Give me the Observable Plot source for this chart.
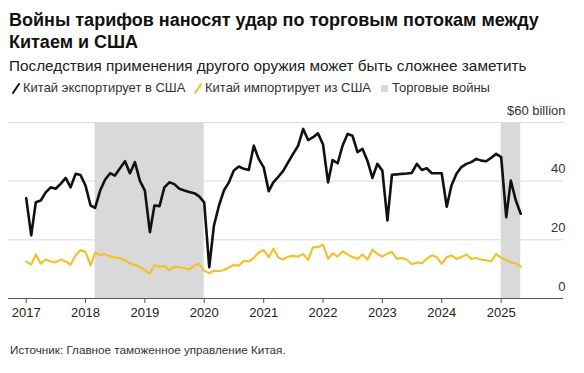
<!DOCTYPE html>
<html>
<head>
<meta charset="utf-8">
<script src="https://cdn.jsdelivr.net/npm/d3@7"></script>
<script src="https://cdn.jsdelivr.net/npm/@observablehq/plot@0.6"></script>
<style>
  html, body { margin: 0; padding: 0; background: #fff; }
  body { width: 584px; height: 373px; position: relative; overflow: hidden;
         font-family: "Liberation Sans", Arial, Helvetica, sans-serif; }
  .title { position: absolute; left: 9px; top: 9px; font-size: 18px; font-weight: bold;
           line-height: 22px; color: #111; white-space: nowrap; }
  .subtitle { position: absolute; left: 9px; top: 57px; font-size: 15.3px; line-height: 18px;
              color: #222; white-space: nowrap; }
  .legend { position: absolute; top: 80px; left: 0; height: 16px; font-size: 13px;
            line-height: 16px; color: #333; white-space: nowrap; }
  .legend .item { position: absolute; top: 0; display: flex; align-items: center; }
  .legend svg { margin-right: 3px; }
  .chart { position: absolute; left: 0; top: 100px; }
  .footer { position: absolute; left: 10px; top: 342px; font-size: 11.7px; line-height: 16px;
            color: #333; white-space: nowrap; }
</style>
</head>
<body>
<div class="title">Войны тарифов наносят удар по торговым потокам между<br>Китаем и США</div>
<div class="subtitle">Последствия применения другого оружия может быть сложнее заметить</div>
<div class="legend" id="legend"></div>
<div class="chart" id="chart"></div>
<div class="footer">Источник: Главное таможенное управление Китая.</div>
<script>
// Monthly values, $ billion, January 2017 .. May 2025
const startYear = 2017;
const exportsToUS = [
  34.2, 21.5, 32.8, 33.4, 36.2, 37.9, 37.4, 39.1, 41.1, 37.9, 42.5, 42.1,
  38.5, 31.7, 30.9, 36.8, 40.5, 42.7, 41.9, 44.4, 46.8, 42.7, 46.5, 40.2,
  36.8, 22.6, 31.7, 31.5, 37.9, 39.6, 39.0, 37.4, 36.8, 36.3, 35.9, 34.8,
  32.8, 10.7, 24.9, 31.7, 36.8, 39.6, 43.6, 45.0, 44.2, 43.8, 52.1, 47.6,
  44.7, 36.6, 39.6, 41.5, 43.5, 46.5, 49.3, 52.1, 57.8, 54.0, 55.0, 56.3,
  52.5, 39.6, 47.2, 46.1, 52.1, 56.1, 55.5, 49.9, 51.0, 47.0, 41.1, 45.9,
  43.6, 26.6, 42.2, 42.3, 42.5, 42.6, 42.8, 45.9, 43.8, 44.4, 42.7, 42.7,
  42.7, 31.3, 38.5, 42.5, 44.8, 45.9, 46.5, 47.6, 47.0, 46.8, 48.0, 49.3,
  48.2, 27.7, 40.2, 33.4, 28.9
];
const importsFromUS = [
  12.6, 11.6, 15.0, 11.9, 13.3, 12.6, 12.3, 13.3, 12.6, 11.5, 14.7, 16.5,
  15.9, 11.3, 15.6, 14.8, 15.1, 14.3, 14.0, 13.7, 13.1, 12.0, 11.4, 10.8,
  9.6, 8.5, 11.4, 10.8, 11.1, 9.6, 10.8, 10.7, 10.3, 9.9, 11.3, 11.7,
  9.5, 8.6, 9.5, 9.3, 9.7, 10.6, 11.4, 11.2, 12.9, 12.6, 13.8, 15.7,
  16.5, 14.0, 17.0, 14.0, 13.3, 14.3, 14.5, 14.3, 15.2, 13.2, 17.5, 17.5,
  18.4, 13.5, 15.4, 14.3, 16.1, 15.0, 14.1, 13.5, 15.0, 13.2, 16.6, 15.2,
  14.3, 15.4, 15.8, 13.5, 13.8, 13.2, 11.7, 12.3, 12.0, 13.5, 14.7, 14.1,
  11.8, 14.1, 14.7, 13.5, 14.1, 15.0, 13.5, 13.8, 13.2, 13.0, 12.7, 15.2,
  13.8, 13.2, 12.3, 12.0, 10.9
];
const tradeWarStarts = ["2018-03-01", "2025-01-01"];
const tradeWarEnds   = ["2020-01-01", "2025-05-01"];
const yearTicks = [2017, 2018, 2019, 2020, 2021, 2022, 2023, 2024, 2025];
const yTicks = [0, 20, 40, 60];
const yTickLabels = ["0", "20", "40", "$60 billion"];

const seriesNames = ["Китай экспортирует в США", "Китай импортирует из США", "Торговые войны"];
const colors = {exp: "#111111", imp: "#f2c12e", war: "#d9d9d9"};

const monthDate = i => new Date(Date.UTC(startYear + Math.floor(i / 12), i % 12, 1));
const expData = exportsToUS.map((v, i) => ({date: monthDate(i), value: v}));
const impData = importsFromUS.map((v, i) => ({date: monthDate(i), value: v}));
const wars = tradeWarStarts.map((s, i) => ({start: new Date(s + "T00:00:00Z"), end: new Date(tradeWarEnds[i] + "T00:00:00Z")}));
const yearDates = yearTicks.map(y => new Date(Date.UTC(y, 0, 1)));

// Legend
const legend = document.getElementById("legend");
const slash = c => `<svg width="8" height="11" viewBox="0 0 8 11"><line x1="1" y1="10" x2="7" y2="1" stroke="${c}" stroke-width="2" stroke-linecap="round"/></svg>`;
const square = c => `<svg width="8" height="11" viewBox="0 0 8 11"><rect x="0" y="2" width="7" height="7" fill="${c}"/></svg>`;
const legendLeft = [12, 194, 381];
const icons = [slash(colors.exp), slash(colors.imp), square(colors.war)];
seriesNames.forEach((name, i) => {
  const span = document.createElement("span");
  span.className = "item";
  span.style.left = legendLeft[i] + "px";
  span.innerHTML = icons[i] + "<span>" + name + "</span>";
  legend.appendChild(span);
});

const chart = Plot.plot({
  width: 584,
  height: 232,
  marginLeft: 8,
  marginRight: 21,
  marginTop: 22,
  marginBottom: 34,
  x: {type: "utc", domain: [yearDates[0], yearDates[yearDates.length - 1]], range: [25.7, 500.7]},
  y: {domain: [0, 60], axis: null},
  style: {fontFamily: "'Liberation Sans', Arial, sans-serif", fontSize: "13px", color: "#333", background: "transparent", overflow: "visible"},
  marks: [
    Plot.rect(wars, {x1: "start", x2: "end", fill: colors.war}),
    Plot.ruleY(yTicks.filter(d => d > 0), {stroke: "#dcdcdc", strokeWidth: 1}),
    Plot.ruleY([0], {stroke: "#555", strokeWidth: 1}),
    Plot.axisX({ticks: yearDates, tickFormat: d => String(d.getUTCFullYear()), tickSize: 5, tickPadding: 4, stroke: "#555", fill: "#222", fontSize: 13, label: null}),
    Plot.text(yTicks, {y: d => d, text: (d, i) => yTickLabels[i], frameAnchor: "right", textAnchor: "end", dx: 2, dy: -12, fontSize: 13, fill: "#333"}),
    Plot.line(impData, {x: "date", y: "value", stroke: colors.imp, strokeWidth: 2.2}),
    Plot.line(expData, {x: "date", y: "value", stroke: colors.exp, strokeWidth: 2.6})
  ]
});
document.getElementById("chart").appendChild(chart);
</script>
</body>
</html>
